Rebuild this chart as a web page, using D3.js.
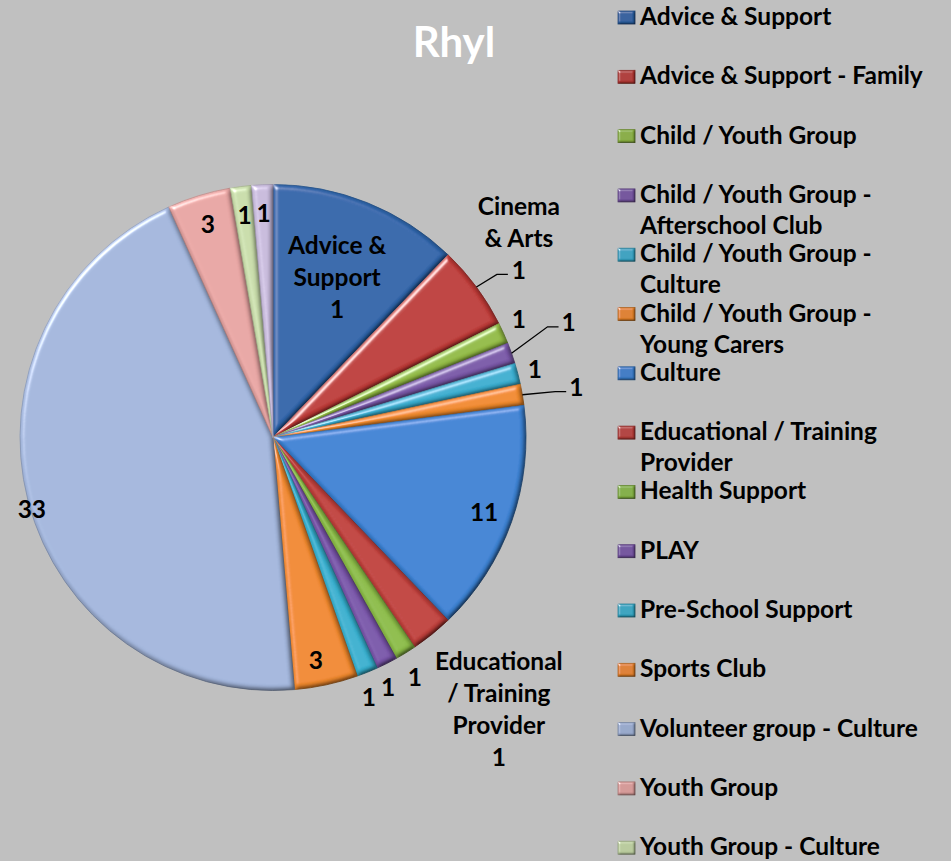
<!DOCTYPE html>
<html>
<head>
<meta charset="utf-8">
<title>Rhyl</title>
<script src="https://d3js.org/d3.v7.min.js"></script>
<style>
  body { margin: 0; background: #c0c0c0; }
  svg { display: block; font-family: Lato, "Open Sans", sans-serif; font-weight: bold; }
</style>
</head>
<body>
<svg id="chart" width="951" height="861"></svg>
<script>
  /* data */
  const categories = [
    "Advice & Support", "Advice & Support - Family", "Child / Youth Group",
    "Child / Youth Group - Afterschool Club", "Child / Youth Group - Culture",
    "Child / Youth Group - Young Carers", "Culture", "Educational / Training Provider",
    "Health Support", "PLAY", "Pre-School Support", "Sports Club",
    "Volunteer group - Culture", "Youth Group", "Youth Group - Culture", "Youth Work"
  ];
  const values = [9, 4, 1, 1, 1, 1, 11, 2, 1, 1, 1, 3, 33, 3, 1, 1];
  // data labels as they appear on the chart
  const dataLabels = [
    "Advice &\nSupport\n1", "Cinema\n& Arts\n1", "1", "1", "1", "1", "11",
    "Educational\n/ Training\nProvider\n1", "1", "1", "1", "3", "33", "3", "1", "1"
  ];
  const colors = [
    "#2f65aa", "#bd3a37", "#93bb45", "#7a58a8", "#3aaed0", "#f08a2c",
    "#3d83d4", "#c0403c", "#8cbc48", "#7a56aa", "#37b0cf", "#f0892e",
    "#a3b6dc", "#e7a5a3", "#c8dcaa", "#c7badb"
  ];

  /* label placement: radius factor, valign, nudges, optional leader */
  const labelLayout = [
    { r: 0.68, v: "middle" },
    { leader: { k: 1.095, da: 0.4 }, v: "bottom" },
    { r: 1.08, v: "middle", dx: -3, dy: -6 },
    { leader: { k: 1.17, da: -2.5 }, v: "middle" },
    { r: 1.07, v: "middle" },
    { leader: { k: 1.13, da: 0.5 }, v: "middle" },
    { r: 0.885, v: "middle" },
    { r: 1.05, v: "top", dx: 59, dy: 17 },
    { r: 1.1, v: "middle", dx: -4, dy: 3 },
    { r: 1.09, v: "middle", dx: -9, dy: 4 },
    { r: 1.1, v: "middle", dx: -8, dy: 2 },
    { r: 0.9, v: "middle", dx: -5 },
    { r: 0.985, v: "middle", dy: 9 },
    { r: 0.88, v: "middle" },
    { r: 0.885, v: "middle" },
    { r: 0.885, v: "middle" }
  ];

  const W = 951, H = 861;
  const cx = 273, cy = 437.5, R = 253;
  const fontSize = 24.5, lineH = 32;

  const svg = d3.select("#chart");
  svg.append("rect").attr("width", W).attr("height", H).attr("fill", "#c0c0c0");

  /* bevel filters, similar to the office 3-D slice look */
  const defs = svg.append("defs");
  function bevel(id, blur, scale) {
    const f = defs.append("filter").attr("id", id)
      .attr("x", "-10%").attr("y", "-10%").attr("width", "120%").attr("height", "120%");
    f.append("feGaussianBlur").attr("in", "SourceAlpha").attr("stdDeviation", blur).attr("result", "blur");
    f.append("feDiffuseLighting").attr("in", "blur").attr("surfaceScale", scale)
      .attr("diffuseConstant", 1.15).attr("lighting-color", "#fff").attr("result", "diff")
      .append("feDistantLight").attr("azimuth", 225).attr("elevation", 60);
    f.append("feComposite").attr("in", "SourceGraphic").attr("in2", "diff")
      .attr("operator", "arithmetic").attr("k1", 1).attr("result", "shaded");
    f.append("feSpecularLighting").attr("in", "blur").attr("surfaceScale", scale)
      .attr("specularConstant", 0.7).attr("specularExponent", 25)
      .attr("lighting-color", "#fff").attr("result", "spec")
      .append("feDistantLight").attr("azimuth", 225).attr("elevation", 30);
    f.append("feComposite").attr("in", "spec").attr("in2", "SourceAlpha")
      .attr("operator", "in").attr("result", "specIn");
    f.append("feComposite").attr("in", "shaded").attr("in2", "specIn")
      .attr("operator", "arithmetic").attr("k2", 1).attr("k3", 1);
  }
  bevel("bevel", 2.5, 4);
  bevel("bevelSmall", 1, 2);

  svg.append("text")
    .attr("x", 454).attr("y", 57)
    .attr("text-anchor", "middle")
    .attr("fill", "#ffffff")
    .attr("font-size", 42)
    .text("Rhyl");

  const table = categories.map((c, i) => ({ cat: c, value: values[i], label: dataLabels[i], color: colors[i], lay: labelLayout[i] }));

  const pie = d3.pie().sort(null).value(d => d.value);
  const arcs = pie(table);
  const arc = d3.arc().innerRadius(0).outerRadius(R);

  const g = svg.append("g").attr("transform", `translate(${cx},${cy})`);

  g.selectAll("path.slice")
    .data(arcs)
    .join("path")
    .attr("class", "slice")
    .attr("d", arc)
    .attr("fill", d => d.data.color)
    .attr("stroke", d => d3.color(d.data.color).darker(0.5))
    .attr("stroke-width", 0.8)
    .attr("filter", "url(#bevel)");

  const polar = (a, r) => [r * Math.sin(a), -r * Math.cos(a)];

  const labels = g.selectAll("g.lbl")
    .data(arcs)
    .join("g")
    .attr("class", "lbl");

  labels.each(function (d) {
    const sel = d3.select(this);
    const lay = d.data.lay;
    const mid = (d.startAngle + d.endAngle) / 2;
    const lines = d.data.label.split("\n");
    let x, y, anchor = "middle";
    if (lay.leader) {
      const s = polar(mid, R);
      const e = polar(mid + lay.leader.da * Math.PI / 180, lay.leader.k * R);
      sel.append("path")
        .attr("d", d3.line()([s, e, [e[0] + 11, e[1]]]))
        .attr("fill", "none")
        .attr("stroke", "#000")
        .attr("stroke-width", 1.3);
      if (lines.length > 1) {
        x = e[0] + 22; y = e[1] - 4;
      } else {
        x = e[0] + 14; y = e[1] - 4; anchor = "start";
      }
    } else {
      const p = polar(mid, lay.r * R);
      x = p[0] + (lay.dx || 0);
      y = p[1] + (lay.dy || 0);
    }
    let y0;
    if (lay.v === "top") y0 = y;
    else if (lay.v === "bottom") y0 = y - (lines.length - 1) * lineH;
    else y0 = y - (lines.length - 1) * lineH / 2;
    const t = sel.append("text")
      .attr("text-anchor", anchor)
      .attr("font-size", fontSize)
      .attr("fill", "#000");
    lines.forEach((ln, i) => {
      t.append("tspan").attr("x", x).attr("y", y0 + i * lineH).attr("dy", "0.35em").text(ln);
    });
  });

  /* legend */
  const legX = 618, legTextX = 640, legTop = 25, legStep = 59.3, legLineH = 31, maxW = 300;
  const legend = svg.append("g");

  const items = legend.selectAll("g.item")
    .data(table)
    .join("g")
    .attr("class", "item")
    .attr("transform", (d, i) => `translate(0,${legTop + i * legStep})`);

  items.append("rect")
    .attr("x", legX).attr("y", -14)
    .attr("width", 17).attr("height", 13)
    .attr("fill", d => d3.color(d.color).darker(0.25))
    .attr("stroke", d => d3.color(d.color).darker(0.8))
    .attr("stroke-width", 0.8)
    .attr("filter", "url(#bevelSmall)");

  items.each(function (d) {
    const t = d3.select(this).append("text")
      .attr("x", legTextX).attr("y", 0)
      .attr("font-size", fontSize)
      .attr("fill", "#000");
    const words = d.cat.split(" ");
    let line = [], lineNo = 0;
    let ts = t.append("tspan").attr("x", legTextX).attr("y", 0);
    words.forEach(w => {
      line.push(w);
      ts.text(line.join(" "));
      if (ts.node().getComputedTextLength() > maxW && line.length > 1) {
        line.pop();
        ts.text(line.join(" "));
        line = [w];
        lineNo++;
        ts = t.append("tspan").attr("x", legTextX).attr("y", lineNo * legLineH).text(w);
      }
    });
  });
</script>
</body>
</html>
